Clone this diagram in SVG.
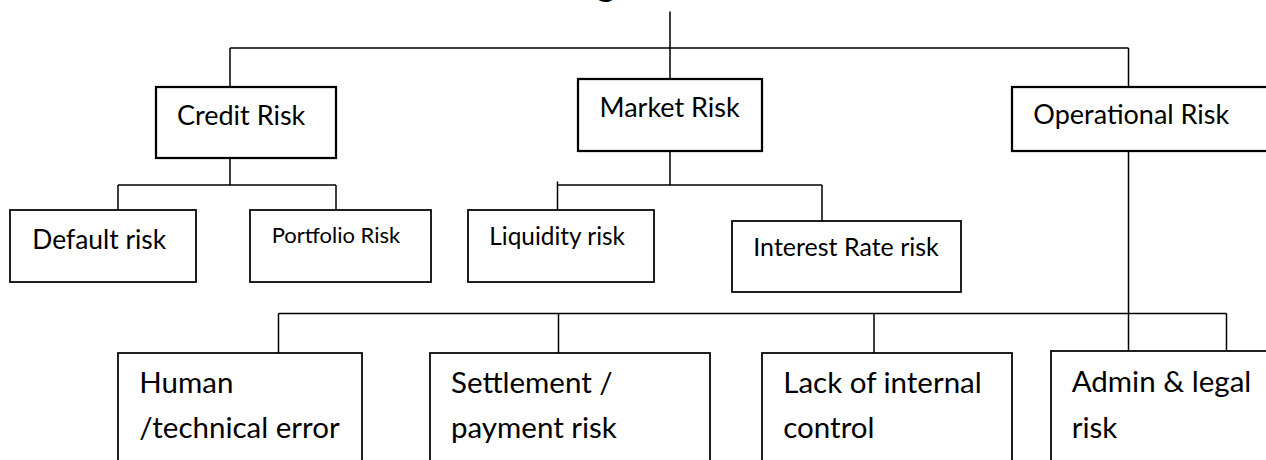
<svg xmlns="http://www.w3.org/2000/svg" width="1266" height="460" viewBox="0 0 1266 460">
<style>
.bg{fill:#ffffff}
.box{fill:#ffffff;stroke:#000;stroke-width:1.75}
.main{stroke-width:2.25}
.t{font-family:Lato,"Noto Sans",sans-serif;fill:#000}
.l{font-size:27px}
.d{font-size:26.4px}
.m{font-size:25px}
.q{font-size:24.4px}
.s{font-size:22px}
.b{font-size:29.5px}
.c{fill:none;stroke:#000;stroke-width:1.5}
</style>
<rect class="bg" x="0" y="0" width="1266" height="460"/>
<text x="606" y="-4.5" class="t" font-size="36" font-weight="bold" text-anchor="middle">g</text>
<g id="connectors">
<path class="c" d="M670 11.5V48 M230 48H1128.5 M230 48V87 M670 48V79 M1128.5 48V87"/>
<path class="c" d="M230 158V185 M118 185H336 M118 185V210 M336 185V210"/>
<path class="c" d="M670 151V185 M557.5 185H822 M557.5 181.5V210 M822 185V221"/>
<path class="c" d="M1128.5 151V351 M278.5 313.5H1226.5 M278.5 313.5V353 M558.5 313.5V353 M874 313.5V353 M1226.5 313.5V351"/>
</g>
<g id="credit"><rect class="box main" x="156" y="87" width="180" height="71"/><text class="t l" x="177" y="125">Credit Risk</text></g>
<g id="market"><rect class="box main" x="578" y="79" width="184" height="72"/><text class="t l" x="599.5" y="116.7">Market Risk</text></g>
<g id="operational"><rect class="box main" x="1012" y="87" width="270" height="64"/><text class="t l" x="1033.3" y="124.3">Operational Risk</text></g>
<g id="default"><rect class="box" x="10" y="210" width="186" height="72"/><text class="t d" x="32.3" y="249.3">Default risk</text></g>
<g id="portfolio"><rect class="box" x="250" y="210" width="181" height="72"/><text class="t s" x="271.7" y="243.3">Portfolio Risk</text></g>
<g id="liquidity"><rect class="box" x="468" y="210" width="186" height="72"/><text class="t q" x="489.3" y="245">Liquidity risk</text></g>
<g id="interest"><rect class="box" x="732" y="221" width="229" height="71"/><text class="t m" x="753.3" y="256">Interest Rate risk</text></g>
<g id="human"><rect class="box" x="118" y="353" width="244" height="130"/><text class="t b" x="139.3" y="393.3">Human</text><text class="t b" x="139.3" y="438.3">/technical error</text></g>
<g id="settlement"><rect class="box" x="430" y="353" width="280" height="130"/><text class="t b" x="451" y="393.3">Settlement /</text><text class="t b" x="451" y="438.3">payment risk</text></g>
<g id="lack"><rect class="box" x="762" y="353" width="250" height="130"/><text class="t b" x="783.3" y="393.3">Lack of internal</text><text class="t b" x="783.3" y="438.3">control</text></g>
<g id="admin"><rect class="box" x="1051" y="351" width="230" height="130"/><text class="t b" x="1071.7" y="391.7">Admin &amp; legal</text><text class="t b" x="1071.7" y="438.3">risk</text></g>
</svg>
